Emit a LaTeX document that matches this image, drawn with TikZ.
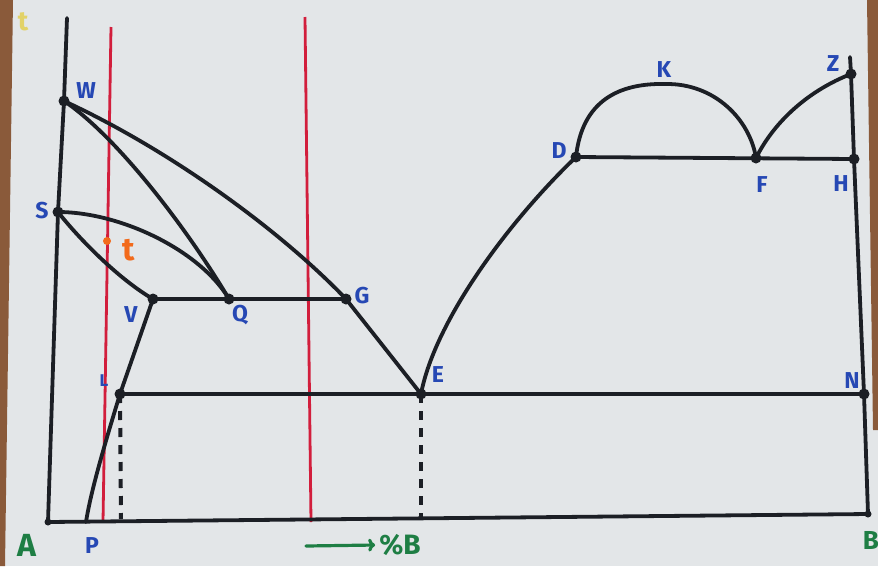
\documentclass[tikz,border=0pt]{standalone}
\usepackage{fontspec}
\setmainfont{Fira Sans}
\usetikzlibrary{arrows.meta}
\definecolor{inkc}{HTML}{1C1F25}
\definecolor{redc}{HTML}{D21E3C}
\definecolor{bluec}{HTML}{2648B4}
\definecolor{greenc}{HTML}{1E7E44}
\definecolor{orangec}{HTML}{F26A1B}
\definecolor{yellowc}{HTML}{E2D268}
\definecolor{paperc}{HTML}{E3E6E8}
\definecolor{woodc}{HTML}{8A5A3A}
\begin{document}
\begin{tikzpicture}[x=1pt,y=-1pt,
  ink/.style={line width=3.8pt, color=inkc, line cap=round, line join=round},
  redline/.style={line width=2.8pt, color=redc},
  dot/.style={circle, fill=inkc, inner sep=0pt, minimum size=11pt},
  smalldot/.style={circle, fill=inkc, inner sep=0pt, minimum size=7pt},
  lbl/.style={text=bluec, font=\bfseries\fontsize{23}{23}\selectfont, inner sep=0pt},
  glbl/.style={text=greenc, font=\bfseries\fontsize{32}{32}\selectfont, inner sep=0pt},
  dsh/.style={line width=4pt, color=inkc, dash pattern=on 9pt off 8pt}]
\useasboundingbox (0,0) rectangle (878,566);
% paper and table edges
\fill[paperc] (0,0) rectangle (878,566);
\fill[woodc] (0,0) -- (13,0) -- (5,566) -- (0,566) -- cycle;
\fill[woodc] (867,0) -- (878,0) -- (878,430) -- (873,430) -- cycle;

% points
\coordinate (Atop) at (67,18);
\coordinate (W) at (64,101);
\coordinate (S) at (58,212);
\coordinate (A) at (48,522);
\coordinate (Bc) at (868,514);
\coordinate (Rtop) at (850,57);
\coordinate (Z) at (851,74);
\coordinate (H) at (854,159);
\coordinate (N) at (864,394);
\coordinate (V) at (153,299);
\coordinate (Q) at (229,299);
\coordinate (G) at (346,299);
\coordinate (L) at (120,394);
\coordinate (E) at (421,394);
\coordinate (P) at (86,522);
\coordinate (D) at (576,157);
\coordinate (K) at (665,84);
\coordinate (F) at (756,158);
\coordinate (Lb) at (121,519);
\coordinate (Eb) at (421,517);
\coordinate (R1t) at (111,27);
\coordinate (R1b) at (103,522);
\coordinate (R2t) at (305,17);
\coordinate (R2b) at (311,522);

% red verticals
\draw[redline] (R1t) -- (R1b);
\draw[redline] (R2t) -- (R2b);

% axes
\draw[ink] (Atop) -- (W) -- (S) -- (A) -- (Bc) -- (N) -- (H) -- (Z) -- (Rtop);

% left part
\draw[ink] (W) .. controls (170,150) and (280,230) .. (G) -- (E);
\draw[ink] (W) .. controls (115,135) and (185,225) .. (Q);
\draw[ink] (S) .. controls (120,212) and (200,250) .. (Q);
\draw[ink] (S) .. controls (80,240) and (120,280) .. (V);
\draw[ink] (V) -- (G);
\draw[ink] (L) -- (N);
\draw[ink] (V) -- (L) .. controls (106,440) and (91,490) .. (P);
\draw[dsh] (L) -- (Lb);
\draw[dsh] (E) -- (Eb);

% right part
\draw[ink] (E) .. controls (435,320) and (510,220) .. (D);
\draw[ink] (D) -- (H);
\draw[ink] (D) .. controls (582,100) and (620,83) .. (K)
           .. controls (715,83) and (750,120) .. (F);
\draw[ink] (F) .. controls (775,120) and (810,90) .. (Z);

% dots
\foreach \p in {W,S,V,Q,G,L,E,N,D,F,H,Z}
  \node[dot] (d\p) at (\p) {};
\node[smalldot] (dA) at (A) {};
\node[smalldot] (dB) at (Bc) {};

% labels
\node[text=yellowc, font=\bfseries\fontsize{27}{27}\selectfont, inner sep=0pt] (lt) at (23,22) {t};
\node[lbl] (lW) at (86,91) {W};
\node[lbl] (lS) at (42,211) {S};
\node[lbl] (lV) at (131,315) {V};
\node[lbl] (lQ) at (240,315) {Q};
\node[lbl] (lG) at (362,296) {G};
\node[lbl, font=\bfseries\fontsize{17}{17}\selectfont] (lL) at (104,381) {L};
\node[lbl] (lE) at (438,375) {E};
\node[lbl] (lP) at (92,546) {P};
\node[lbl] (lD) at (559,151) {D};
\node[lbl] (lK) at (664,70) {K};
\node[lbl] (lZ) at (833,64) {Z};
\node[lbl] (lF) at (762,185) {F};
\node[lbl] (lH) at (841,184) {H};
\node[lbl] (lN) at (852,381) {N};
\node[glbl] (lA) at (27,545) {A};
\node[glbl, font=\bfseries\fontsize{28}{28}\selectfont] (lpB) at (400,545) {\%B};
\coordinate (arS) at (306,546);
\draw[greenc, line width=3.2pt, line cap=round, -{To[length=7pt,width=13pt]}] (arS) -- ([xshift=-4pt]lpB.west);
\node[glbl, font=\bfseries\fontsize{26}{26}\selectfont, anchor=east] (lB) at (879,540) {B};

% orange point t
\node[circle, fill=orangec, inner sep=0pt, minimum size=8pt] (ot) at (107,241) {};
\node[text=orangec, font=\bfseries\fontsize{32}{32}\selectfont, inner sep=0pt] (otl) at (129,250) {t};
\end{tikzpicture}
\end{document}
